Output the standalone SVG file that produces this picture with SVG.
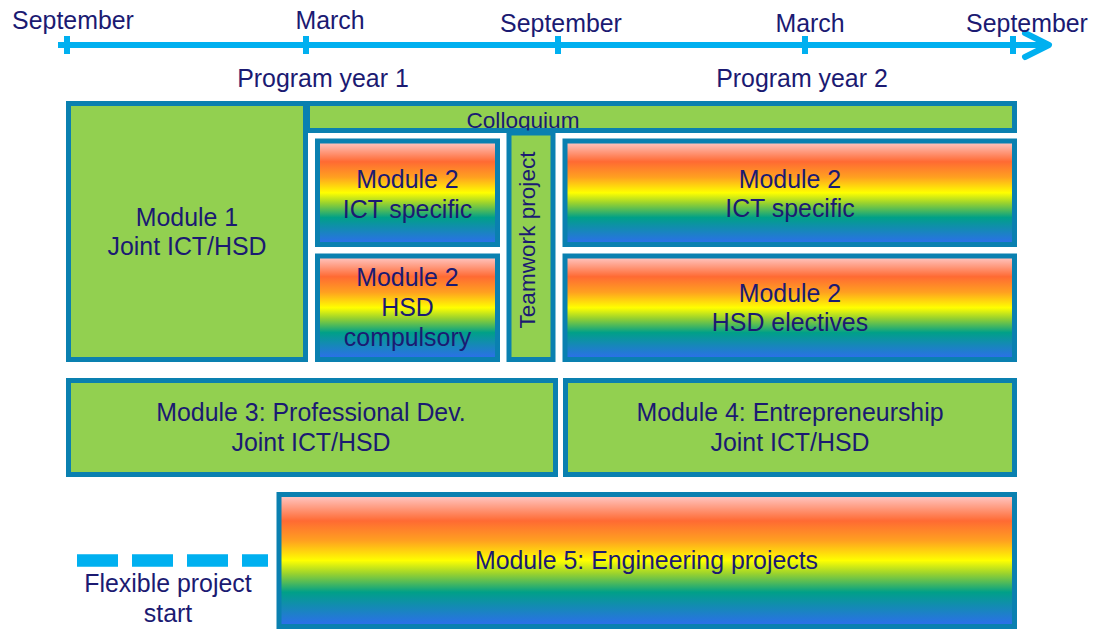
<svg xmlns="http://www.w3.org/2000/svg" width="1093" height="629" viewBox="0 0 1093 629">
<defs>
<linearGradient id="rainbow" x1="0" y1="0" x2="0" y2="1">
<stop offset="0" stop-color="#ffcccc"/>
<stop offset="0.2" stop-color="#ff6a33"/>
<stop offset="0.35" stop-color="#ffa020"/>
<stop offset="0.5" stop-color="#ffff00"/>
<stop offset="0.6" stop-color="#99d22e"/>
<stop offset="0.74" stop-color="#00a088"/>
<stop offset="1" stop-color="#2f6cf0"/>
</linearGradient>
<style>
.g{fill:#92d050;stroke:#0a80b0;stroke-width:5}
.r{fill:url(#rainbow);stroke:#0a80b0;stroke-width:5}
.t{font-family:"Liberation Sans",Arial,sans-serif;font-size:24.9px;fill:#1b1a72;text-anchor:middle}
.s{font-size:22.6px}
.ax{stroke:#00b0f0;stroke-width:6;fill:none}
</style>
</defs>
<g id="timeline">
<line class="ax" x1="58" y1="45" x2="1047" y2="45"/>
<polyline class="ax" points="1025,33 1049,45 1025,57" stroke-linecap="round" stroke-linejoin="round"/>
<line class="ax" x1="67" y1="36" x2="67" y2="54" stroke-width="7"/>
<line class="ax" x1="306" y1="36" x2="306" y2="54" stroke-width="7"/>
<line class="ax" x1="558" y1="36" x2="558" y2="54" stroke-width="7"/>
<line class="ax" x1="805" y1="36" x2="805" y2="54" stroke-width="7"/>
<line class="ax" x1="1013" y1="36" x2="1013" y2="54" stroke-width="7"/>
<text class="t" x="73" y="29">September</text>
<text class="t" x="330" y="29">March</text>
<text class="t" x="561" y="32">September</text>
<text class="t" x="810" y="32">March</text>
<text class="t" x="1027" y="32">September</text>
<text class="t" x="323" y="87">Program year 1</text>
<text class="t" x="802" y="87">Program year 2</text>
</g>
<g id="module1">
<rect class="g" x="68.5" y="103.5" width="237" height="256"/>
<text class="t" x="187" y="226">Module 1</text>
<text class="t" x="187" y="255">Joint ICT/HSD</text>
</g>
<g id="colloquium">
<rect class="g" x="307.5" y="103.5" width="707" height="27"/>
<text class="t s" x="523" y="128">Colloquium</text>
</g>
<g id="module2-ict-y1">
<rect class="r" x="317.5" y="141" width="180" height="103.5"/>
<text class="t" x="407.5" y="188">Module 2</text>
<text class="t" x="407.5" y="218">ICT specific</text>
</g>
<g id="module2-hsd-y1">
<rect class="r" x="317.5" y="256" width="180" height="103.5"/>
<text class="t" x="407.5" y="286">Module 2</text>
<text class="t" x="407.5" y="316">HSD</text>
<text class="t" x="407.5" y="346">compulsory</text>
</g>
<g id="teamwork">
<rect class="g" x="509" y="133" width="44" height="226.5"/>
<text class="t s" x="0" y="0" transform="translate(535,240) rotate(-90)">Teamwork project</text>
</g>
<g id="module2-ict-y2">
<rect class="r" x="565" y="141" width="449.5" height="103.5"/>
<text class="t" x="790" y="188">Module 2</text>
<text class="t" x="790" y="217">ICT specific</text>
</g>
<g id="module2-hsd-y2">
<rect class="r" x="565" y="256" width="449.5" height="103.5"/>
<text class="t" x="790" y="302">Module 2</text>
<text class="t" x="790" y="331">HSD electives</text>
</g>
<g id="module3">
<rect class="g" x="68.5" y="380.5" width="487" height="94"/>
<text class="t" x="311" y="421">Module 3: Professional Dev.</text>
<text class="t" x="311" y="451">Joint ICT/HSD</text>
</g>
<g id="module4">
<rect class="g" x="565.5" y="380.5" width="449" height="94"/>
<text class="t" x="790" y="421">Module 4: Entrepreneurship</text>
<text class="t" x="790" y="451">Joint ICT/HSD</text>
</g>
<g id="module5">
<rect class="r" x="279" y="494.5" width="735.5" height="132"/>
<text class="t" x="646.5" y="569">Module 5: Engineering projects</text>
</g>
<g id="flexible">
<line x1="77" y1="560.5" x2="268" y2="560.5" stroke="#00b0f0" stroke-width="12.5" stroke-dasharray="41 14"/>
<text class="t" x="168" y="592">Flexible project</text>
<text class="t" x="168" y="622">start</text>
</g>
</svg>
